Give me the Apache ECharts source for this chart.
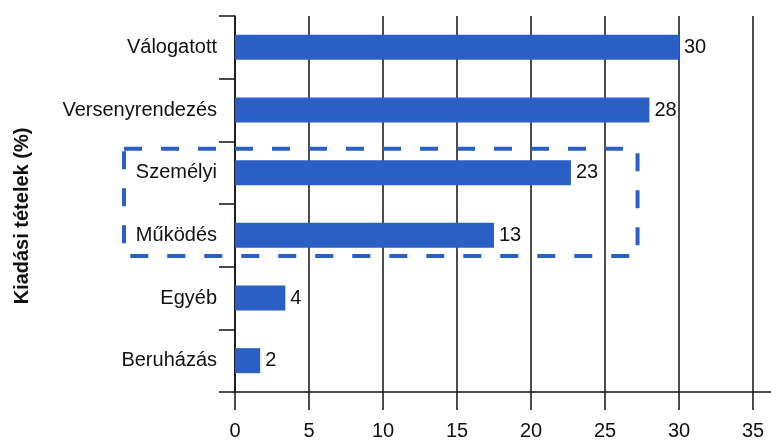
<!DOCTYPE html>
<html>
<head>
<meta charset="utf-8">
<script src="https://cdn.jsdelivr.net/npm/echarts@6/dist/echarts.min.js"></script>
<style>html,body{margin:0;padding:0;background:#fff}#c{width:771px;height:441px}</style>
</head>
<body>
<div id="c"></div>
<script>
// Categories, top to bottom
const categories = ['Válogatott', 'Versenyrendezés', 'Személyi', 'Működés', 'Egyéb', 'Beruházás'];
// Bar lengths as drawn in the picture (x-axis units)
const barLengths = [30, 28, 22.7, 17.5, 3.4, 1.7];
// Numbers printed beside the bars
const printedValues = [30, 28, 23, 13, 4, 2];
// X-axis ticks
const xTicks = [0, 5, 10, 15, 20, 25, 30, 35];
const yAxisTitle = 'Kiadási tételek (%)';
// Highlighted group (dashed box)
const boxedCategories = ['Személyi', 'Működés'];

const BLUE = '#2a60c6';
const FONT = '"Liberation Sans", Arial, sans-serif';

const chart = echarts.init(document.getElementById('c'), null, {renderer: 'canvas'});
const option = {
  animation: false,
  backgroundColor: '#fff',
  grid: {left: 235, right: 18, top: 16, bottom: 47, containLabel: false},
  xAxis: {
    type: 'value',
    min: xTicks[0],
    max: xTicks[xTicks.length - 1],
    interval: 5,
    axisLine: {show: true, lineStyle: {color: '#111', width: 1.5}},
    axisTick: {show: true, length: 18, lineStyle: {color: '#111', width: 1.5}},
    splitLine: {show: true, lineStyle: {color: '#111', width: 1.5}},
    axisLabel: {margin: 29, fontSize: 20, color: '#111', fontFamily: FONT}
  },
  yAxis: {
    type: 'category',
    inverse: true,
    data: categories,
    name: yAxisTitle,
    nameLocation: 'middle',
    nameGap: 203,
    nameRotate: 90,
    nameTextStyle: {fontSize: 20, fontWeight: 'bold', color: '#111', fontFamily: FONT, padding: [0, 24, 0, 0]},
    axisLine: {show: true, lineStyle: {color: '#111', width: 1.5}},
    axisTick: {show: true, length: 16, alignWithLabel: false, lineStyle: {color: '#111', width: 1.5}},
    axisLabel: {margin: 18, fontSize: 20, color: '#111', fontFamily: FONT}
  },
  series: [{
    type: 'bar',
    data: barLengths,
    barWidth: 25,
    itemStyle: {color: BLUE},
    label: {
      show: true,
      position: 'right',
      distance: 5,
      fontSize: 20,
      color: '#111',
      fontFamily: FONT,
      formatter: p => String(printedValues[p.dataIndex])
    }
  }]
};
chart.setOption(option);

// Dashed box around the highlighted group and axis extension, positioned via the chart's scales
const cy1 = chart.convertToPixel({yAxisIndex: 0}, boxedCategories[0]);
const cy2 = chart.convertToPixel({yAxisIndex: 0}, boxedCategories[1]);
const band = cy2 - cy1;
const boxLeft = chart.convertToPixel({xAxisIndex: 0}, -7.5);
const boxRight = chart.convertToPixel({xAxisIndex: 0}, 27.2);
const boxTop = cy1 - band * 0.38;
const boxBottom = cy2 + band * 0.33;
const x35 = chart.convertToPixel({xAxisIndex: 0}, 35);
const yBase = chart.convertToPixel({yAxisIndex: 0}, categories[categories.length - 1]) + band / 2;

chart.setOption({
  graphic: [
    {
      type: 'rect',
      silent: true,
      z: 10,
      shape: {x: boxLeft, y: boxTop, width: boxRight - boxLeft, height: boxBottom - boxTop},
      style: {fill: 'none', stroke: BLUE, lineWidth: 4, lineDash: [18, 19]}
    },
    {
      type: 'line',
      silent: true,
      shape: {x1: x35, y1: yBase, x2: 771, y2: yBase},
      style: {stroke: '#111', lineWidth: 1.5}
    }
  ]
});
</script>
</body>
</html>
